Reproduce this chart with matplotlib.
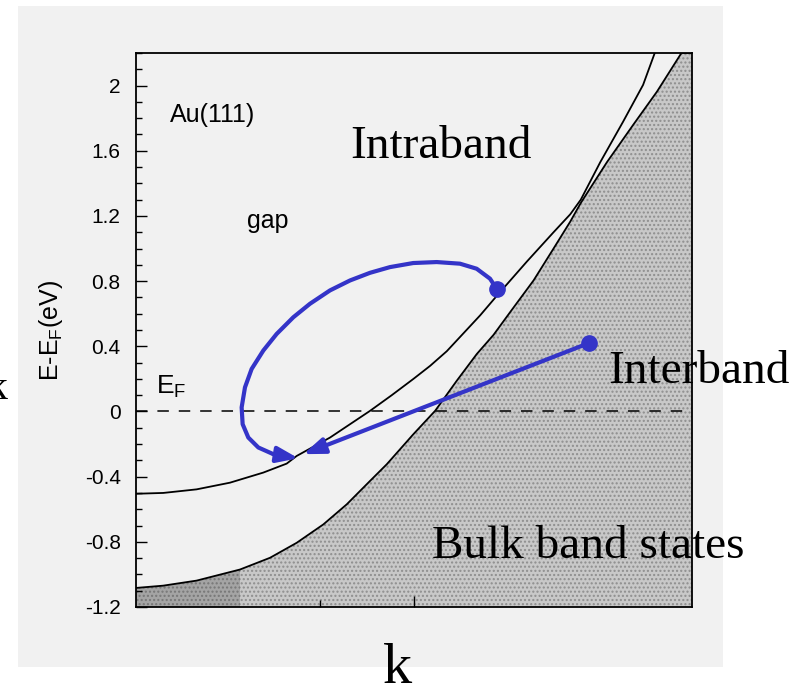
import matplotlib
matplotlib.use("Agg")
import matplotlib.pyplot as plt
from matplotlib.patches import Rectangle

plt.rcParams['font.family'] = ['Liberation Sans', 'DejaVu Sans']
plt.rcParams['mathtext.default'] = 'regular'

# --- data (k in units of plot width, E in eV) ---
# surface state band
ss_k = [0.0, 0.049, 0.109, 0.169, 0.229, 0.271, 0.289, 0.349, 0.421, 0.460, 0.499, 0.529,
        0.559, 0.589, 0.619, 0.649, 0.703, 0.751, 0.781, 0.800, 0.835, 0.876, 0.912, 0.933]
ss_E = [-0.505, -0.500, -0.478, -0.437, -0.375, -0.320, -0.273, -0.160, 0.004, 0.10, 0.20,
        0.28, 0.37, 0.48, 0.59, 0.71, 0.92, 1.10, 1.21, 1.30, 1.53, 1.778, 2.004, 2.2]

# lower edge of the bulk band continuum
bulk_k = [0.0, 0.049, 0.109, 0.187, 0.241, 0.289, 0.337, 0.379, 0.421, 0.451, 0.499, 0.538,
          0.577, 0.613, 0.643, 0.673, 0.715, 0.751, 0.781, 0.800, 0.847, 0.894, 0.937, 0.981, 1.0]
bulk_E = [-1.083, -1.069, -1.038, -0.970, -0.898, -0.806, -0.693, -0.570, -0.426, -0.324,
          -0.139, 0.004, 0.189, 0.353, 0.47, 0.61, 0.804, 1.00, 1.165, 1.28, 1.53, 1.758,
          1.963, 2.2, 2.2]
dark_kmax = 0.187

# intraband loop (start dot -> arrow tip)
loop_k = [0.6487, 0.6367, 0.6127, 0.5827, 0.5408, 0.4986, 0.4568, 0.4209, 0.3849, 0.3489,
          0.3129, 0.2829, 0.2530, 0.2290, 0.2080, 0.1960, 0.1900, 0.1918, 0.2020, 0.2200,
          0.2470, 0.2919]
loop_E = [0.753, 0.815, 0.876, 0.907, 0.917, 0.911, 0.886, 0.851, 0.804, 0.743, 0.661, 0.578,
          0.476, 0.374, 0.261, 0.148, 0.025, -0.078, -0.160, -0.221, -0.262, -0.287]

inter_start = (0.814, 0.419)
inter_end = (0.301, -0.262)

yticks = [-1.2, -0.8, -0.4, 0, 0.4, 0.8, 1.2, 1.6, 2]
ytick_labels = ['-1.2', '-0.8', '-0.4', '0', '0.4', '0.8', '1.2', '1.6', '2']

blue = '#3434c8'
bg = '#f1f1f1'

fig = plt.figure(figsize=(8.04, 6.85), dpi=100)
fig.patches.append(Rectangle((18 / 804, 1 - 667 / 685), 705 / 804, 661 / 685,
                             transform=fig.transFigure, facecolor=bg, edgecolor='none', zorder=-5))

ax = fig.add_axes([136 / 804, 1 - 607 / 685, 556 / 804, 554 / 685])
ax.set_facecolor(bg)
ax.set_xlim(0, 1)
ax.set_ylim(-1.2, 2.2)

# bulk band region
ax.fill_between(bulk_k, -1.2, bulk_E, facecolor='#c8c8c8', edgecolor='#8e8e8e',
                hatch='....', linewidth=0, zorder=1)
dk = [k for k in bulk_k if k <= dark_kmax]
dE = [e for k, e in zip(bulk_k, bulk_E) if k <= dark_kmax]
ax.fill_between(dk, -1.2, dE, facecolor='#a4a4a4', edgecolor='#777777',
                hatch='....', linewidth=0, zorder=1)

ax.plot(bulk_k, bulk_E, color='black', lw=1.3, zorder=3, solid_joinstyle='round')
ax.plot(ss_k, ss_E, color='black', lw=1.3, zorder=3, solid_joinstyle='round')
ax.axhline(0, color='black', lw=1.1, ls=(0, (7.5, 6.5)), zorder=2)

arrow_props = dict(arrowstyle='-|>,head_length=0.8,head_width=0.3', color=blue,
                   lw=3, shrinkA=0, shrinkB=0, mutation_scale=16)

# intraband loop
ax.plot(loop_k[:-1], loop_E[:-1], color=blue, lw=3, zorder=5, solid_capstyle='round',
        solid_joinstyle='round')
ax.annotate('', xy=(loop_k[-1], loop_E[-1]), xytext=(loop_k[-2], loop_E[-2]),
            arrowprops=arrow_props, zorder=5)
ax.plot(loop_k[0], loop_E[0], 'o', color=blue, ms=11, zorder=6)

# interband arrow
ax.annotate('', xy=inter_end, xytext=inter_start, arrowprops=arrow_props, zorder=5)
ax.plot(*inter_start, 'o', color=blue, ms=11, zorder=6)

# axes styling
ax.set_yticks(yticks)
ax.set_yticklabels(ytick_labels)
ax.set_yticks([v / 10 for v in range(-12, 23)], minor=True)
ax.set_xticks([0.5])
ax.set_xticks([0.331], minor=True)
ax.set_xticklabels([])
ax.tick_params(axis='both', which='both', direction='in', width=1)
ax.tick_params(axis='y', which='major', length=8, labelsize=15, pad=11)
ax.tick_params(axis='y', which='minor', length=4)
ax.tick_params(axis='x', which='major', length=8)
ax.tick_params(axis='x', which='minor', length=5)
for s in ax.spines.values():
    s.set_linewidth(1.3)
    s.set_zorder(4)

ax.text(-0.152, 0.5, 'E-E$_F$(eV)', transform=ax.transAxes, rotation=90,
        ha='center', va='center', fontsize=18)

# labels inside the frame
ax.text(0.061, 1.82, 'Au(111)', fontsize=18, va='center')
ax.text(0.2, 1.123, 'gap', fontsize=18, va='baseline')
ax.text(0.036, 0.109, 'E$_F$', fontsize=19, va='baseline')

serif = ['Liberation Serif', 'DejaVu Serif']
ax.text(0.385, 1.555, 'Intraband', fontsize=34, family=serif, va='baseline')
ax.text(0.849, 0.177, 'Interband', fontsize=34, family=serif, va='baseline', clip_on=False)
ax.text(0.532, -0.90, 'Bulk band states', fontsize=34, family=serif, va='baseline', zorder=7)
ax.text(0.471, -1.665, 'k', fontsize=42, family=serif, ha='center', va='baseline', clip_on=False)
ax.text(-0.232, 0.078, 'k', fontsize=30, family=serif, ha='right', va='baseline', clip_on=False)

fig.savefig('out.png', dpi=100)
